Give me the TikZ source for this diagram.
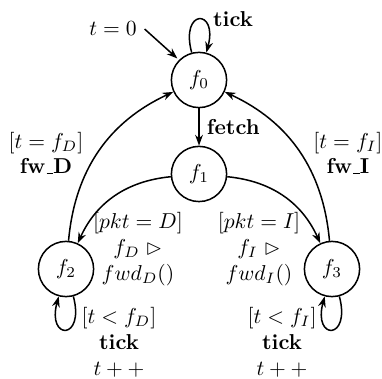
\documentclass[tikz,border=0pt]{standalone}
\usepackage{amsmath,amssymb}
\usepackage{tikz}
\usetikzlibrary{arrows.meta, positioning}
\newcommand{\fwus}{\kern.06em\vbox{\hrule width.3em height.55pt}}

\begin{document}
\begin{tikzpicture}[line width=0.7pt,>={Stealth[length=5pt,width=3.6pt]},
        state/.style={circle,draw,minimum size=0.9cm,inner sep=0pt},
        lbl/.style={align=center,inner sep=1pt}]
      \useasboundingbox (0,0) rectangle (6.227,-6.178);
      % states
      \node[state] (f0) at (3.244,-1.304) {$f_0$};
      \node[state] (f1) at (3.244,-2.836) {$f_1$};
      \node[state] (f2) at (1.076,-4.385) {$f_2$};
      \node[state] (f3) at (5.412,-4.385) {$f_3$};
      \node (init) at (1.842,-0.473) {$t=0$};
      % guards and actions
      \node[lbl] (gD) at (0.750,-2.494) {$[t=f_D]$\\\textbf{fw\fwus D}};
      \node[lbl] (gI) at (5.672,-2.494) {$[t=f_I]$\\\textbf{fw\fwus I}};
      \node[lbl] (pD) at (2.249,-4.059) {$[pkt=D]$\\$f_D \vartriangleright$\\$fwd_D()$};
      \node[lbl] (pI) at (4.222,-4.059) {$[pkt=I]$\\$f_I \vartriangleright$\\$fwd_I()$};
      \node[lbl] (tD) at (1.940,-5.575) {$[t<f_D]$\\\textbf{tick}\\$t++$};
      \node[lbl] (tI) at (4.597,-5.575) {$[t<f_I]$\\\textbf{tick}\\$t++$};
      % transitions
      \draw[->,shorten >=1pt] (init.east) -- (f0.135);
      \draw[->] (f0) to[loop above] node[right=1mm] {\textbf{tick}} (f0);
      \draw[->] (f0) -- (f1) node[right,midway] {\textbf{fetch}};
      \draw[->] (f1) to[bend right=30] (f2);
      \draw[->] (f1) to[bend left=30] (f3);
      \draw[->] (f2) to[bend left=30] (f0);
      \draw[->] (f3) to[bend right=30] (f0);
      \draw[->] (f2) to[loop below] (f2);
      \draw[->] (f3) to[loop below] (f3);
    \end{tikzpicture}
\end{document}
